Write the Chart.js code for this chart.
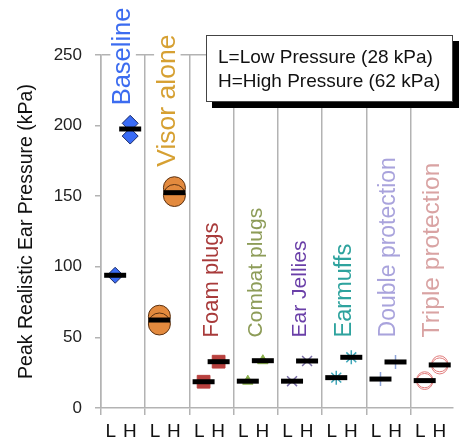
<!DOCTYPE html>
<html>
<head>
<meta charset="utf-8">
<script src="https://cdn.jsdelivr.net/npm/chart.js@4.4.0/dist/chart.umd.min.js"></script>
<style>
  html, body { margin: 0; padding: 0; background: #fff; }
  #wrap { position: relative; width: 469px; height: 439px; }
  #note {
    position: absolute; left: 206px; top: 35px; width: 245px; height: 65px;
    background: #fff; border: 1px solid #444;
    box-shadow: 6px 6px 0 0 #000;
    font: 19px 'Liberation Sans', Arial, sans-serif; color: #111;
    line-height: 24px; padding: 0; box-sizing: content-box;
  }
  #note div { position: absolute; left: 11px; white-space: nowrap; }
</style>
</head>
<body>
<div id="wrap">
  <canvas id="chart" width="469" height="439"></canvas>
  <div id="note"></div>
</div>
<script>
// data
const groups = ["Baseline", "Visor alone", "Foam plugs", "Combat plugs", "Ear Jellies", "Earmuffs", "Double protection", "Triple protection"];
const lowTrials = [[94], [65, 59.5], [18.6], [19], [19], [21.5], [20.5], [20, 18.8]];
const highTrials = [[201.6, 192.6], [156, 150.5], [32.8], [33.5], [33.3], [35.9], [32.6], [31.3, 29.8]];
const lowMeans = [94, 62.3, 18.6, 19, 19, 21.5, 20.5, 19.4];
const highMeans = [197.6, 152.5, 32.8, 33.5, 33.3, 35.9, 32.6, 30.5];
const yTicks = [0, 50, 100, 150, 200, 250];
const pressureLabels = ["L", "H"];
const noteLines = ["L=Low Pressure (28 kPa)", "H=High Pressure (62 kPa)"];
const yTitle = "Peak Realistic Ear Pressure (kPa)";

// styles
const labelColors = ["#3c6cf0", "#d6a032", "#a83a3a", "#8d9c58", "#6a3fa8", "#2ea39e", "#a9a3dc", "#d9a3a3"];
const labelSizes = [25.5, 26.5, 22, 21, 21, 23.5, 23, 24.5];
const markers = [
  { style: "rectRot", r: 8, fill: "#3a6cf6", line: "#1a2a66", w: 1 },
  { style: "circle", r: 11, fill: "#e38a3e", line: "#5a3010", w: 1 },
  { style: "rect", r: 9, fill: "#b8403e", line: "#b8403e", w: 1 },
  { style: "triangle", r: 6, fill: "#8ab04a", line: "#8ab04a", w: 1 },
  { style: "crossRot", r: 7, fill: "#7b6fa8", line: "#7b6fa8", w: 1.5 },
  { style: "star", r: 7, fill: "#3ea6b8", line: "#3ea6b8", w: 1.5 },
  { style: "cross", r: 7, fill: "#8ea4d8", line: "#8ea4d8", w: 1.5 },
  { style: "circle", r: 8, fill: "rgba(0,0,0,0)", line: "#e07a7a", w: 1 }
];
const L_POS = 0.32, H_POS = 0.66;
const L_TICK = 0.22, H_TICK = 0.65;
const gridGray = "#b3b3b3";
const fontFamily = "'Liberation Sans', Arial, sans-serif";

Chart.defaults.font.family = fontFamily;

// note box text (html overlay so the shadow is a plain css box-shadow)
const note = document.getElementById("note");
noteLines.forEach(function(t, i) {
  const d = document.createElement("div");
  d.textContent = t;
  d.style.top = (9 + i * 24) + "px";
  note.appendChild(d);
});

const datasets = [];

// black mean bars, on top
datasets.push({
  label: "mean",
  order: 0,
  data: groups.flatMap((g, i) => [
    { x: i + L_POS, y: lowMeans[i] },
    { x: i + H_POS, y: highMeans[i] }
  ]),
  pointStyle: "line",
  pointRadius: 11,
  borderColor: "#000",
  pointBorderWidth: 5,
  showLine: false
});

groups.forEach(function(g, i) {
  const m = markers[i];
  datasets.push({
    label: g,
    order: 1,
    data: lowTrials[i].map(v => ({ x: i + L_POS, y: v }))
      .concat(highTrials[i].map(v => ({ x: i + H_POS, y: v }))),
    pointStyle: m.style,
    pointRadius: m.r,
    backgroundColor: m.fill,
    borderColor: m.line,
    pointBorderWidth: m.w,
    showLine: false
  });
});

// category labels
const groupLabels = {
  id: "groupLabels",
  afterDatasetsDraw(chart) {
    const ctx = chart.ctx;
    const xs = chart.scales.x, ys = chart.scales.y;
    groups.forEach(function(g, i) {
      const cx = (xs.getPixelForValue(i) + xs.getPixelForValue(i + 1)) / 2;
      const top = ys.getPixelForValue(Math.max(...highTrials[i]));
      const start = Math.min(top - markers[i].r - 10, ys.getPixelForValue(50));
      ctx.save();
      ctx.font = labelSizes[i] + "px " + fontFamily;
      const w = ctx.measureText(g).width;
      ctx.translate(cx, start);
      ctx.rotate(-Math.PI / 2);
      ctx.fillStyle = "#fff";
      ctx.fillRect(-2, -labelSizes[i] * 0.5, w + 4, labelSizes[i]);
      ctx.fillStyle = labelColors[i];
      ctx.textAlign = "left";
      ctx.textBaseline = "middle";
      ctx.fillText(g, 0, 0);
      ctx.restore();
    });
  }
};

const isGroupEdge = v => Math.abs(v - Math.round(v)) < 1e-6;

new Chart(document.getElementById("chart"), {
  type: "scatter",
  data: { datasets: datasets },
  options: {
    responsive: false,
    animation: false,
    devicePixelRatio: 1,
    layout: { padding: { top: 55, right: 0, bottom: 0, left: 0 } },
    plugins: { legend: { display: false }, tooltip: { enabled: false } },
    scales: {
      x: {
        type: "linear",
        min: 0,
        max: 7.96,
        afterBuildTicks: function(scale) {
          const t = [];
          groups.forEach(function(g, i) {
            t.push({ value: i }, { value: i + L_TICK }, { value: i + H_TICK });
          });
          scale.ticks = t;
        },
        afterFit: function(scale) { scale.height = 31; },
        ticks: {
          autoSkip: false,
          maxRotation: 0,
          minRotation: 0,
          padding: 5,
          color: "#111",
          font: { size: 19 },
          callback: function(v) {
            const f = Math.round((v - Math.floor(v)) * 100) / 100;
            if (f === L_TICK) return pressureLabels[0];
            if (f === H_TICK) return pressureLabels[1];
            return "";
          }
        },
        grid: {
          color: c => (c.tick && isGroupEdge(c.tick.value)) ? gridGray : "rgba(0,0,0,0)",
          tickColor: c => (c.tick && isGroupEdge(c.tick.value)) ? gridGray : "rgba(0,0,0,0)",
          lineWidth: 1.5,
          tickLength: 7
        },
        border: { color: gridGray, width: 1.5 }
      },
      y: {
        min: 0,
        max: 250,
        afterBuildTicks: function(scale) { scale.ticks = yTicks.map(v => ({ value: v })); },
        afterFit: function(scale) { scale.width = 101; },
        ticks: { color: "#222", font: { size: 17 }, padding: 13 },
        grid: {
          color: c => (c.tick && c.tick.value === 250) ? gridGray : "rgba(0,0,0,0)",
          tickColor: gridGray,
          lineWidth: 1.5,
          tickLength: 6
        },
        border: { color: gridGray, width: 1.5 },
        title: {
          display: true,
          text: yTitle,
          color: "#111",
          font: { size: 19.5 },
          padding: { top: 15, bottom: 0 }
        }
      }
    }
  },
  plugins: [groupLabels]
});
</script>
</body>
</html>
